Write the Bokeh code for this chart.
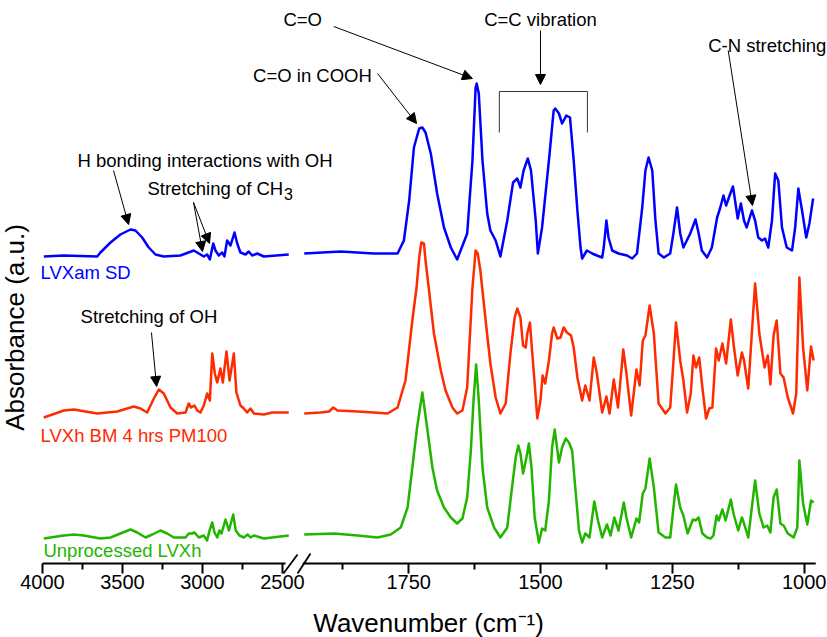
import numpy as np
from bokeh.plotting import figure
from bokeh.models import Range1d, FixedTicker, Label, Arrow, NormalHead, LinearAxis
from bokeh.embed import file_html
from bokeh.resources import INLINE

# ---------------- data (wavenumber cm^-1, absorbance a.u. relative to each trace's baseline) -------------
blue_left_wn = [3992, 3869, 3658, 3638, 3575, 3513, 3450, 3419, 3377, 3336, 3294, 3242, 3138, 3054, 3023,
                2992, 2971, 2954, 2933, 2919, 2898, 2877, 2863, 2846, 2825, 2800, 2783, 2763, 2731, 2711,
                2689, 2658, 2617, 2461]
blue_left_abs = [0.00, 0.01, 0.00, 0.04, 0.14, 0.22, 0.27, 0.26, 0.19, 0.09, 0.02, 0.00, 0.01, 0.06, 0.03,
                 0.00, 0.02, -0.03, 0.13, 0.06, 0.01, 0.04, 0.00, 0.16, 0.11, 0.24, 0.13, 0.04, 0.02, 0.05,
                 0.01, 0.03, 0.00, 0.02]
blue_right_wn = [1948, 1879, 1816, 1771, 1759, 1749, 1740, 1730, 1724, 1718, 1708, 1696, 1683, 1670, 1658,
                 1639, 1629, 1623, 1621, 1617, 1610, 1601, 1595, 1585, 1576, 1563, 1552, 1544, 1538, 1532,
                 1524, 1518, 1509, 1505, 1497, 1484, 1475, 1472, 1465, 1459, 1451, 1444, 1437, 1430, 1424,
                 1421, 1412, 1402, 1393, 1383, 1380, 1375, 1371, 1364, 1352, 1336, 1326, 1317, 1307, 1301,
                 1295, 1288, 1282, 1276, 1266, 1254, 1248, 1241, 1235, 1229, 1216, 1206, 1200, 1194, 1184,
                 1175, 1165, 1159, 1153, 1148, 1140, 1135, 1131, 1126, 1120, 1114, 1109, 1099, 1093, 1087,
                 1080, 1074, 1068, 1061, 1055, 1049, 1042, 1033, 1023, 1017, 1011, 1004, 996, 990, 983]
blue_right_abs = [0.03, 0.05, 0.03, 0.03, 0.16, 0.56, 1.09, 1.28, 1.29, 1.24, 1.03, 0.63, 0.29, 0.09, -0.03,
                  0.23, 0.96, 1.69, 1.73, 1.63, 0.96, 0.43, 0.26, 0.16, 0.00, 0.36, 0.74, 0.78, 0.69, 0.86,
                  0.98, 0.86, 0.36, 0.03, 0.29, 0.96, 1.46, 1.48, 1.43, 1.33, 1.41, 1.39, 0.96, 0.46, 0.09,
                  -0.02, 0.06, 0.03, 0.01, -0.01, 0.09, 0.36, 0.19, 0.06, 0.03, 0.01, -0.02, 0.03, 0.49, 0.86,
                  0.99, 0.86, 0.36, 0.03, -0.01, 0.03, 0.23, 0.49, 0.23, 0.09, 0.23, 0.37, 0.23, 0.06, -0.01,
                  0.09, 0.39, 0.49, 0.61, 0.51, 0.63, 0.70, 0.56, 0.38, 0.53, 0.36, 0.29, 0.46, 0.36, 0.19,
                  0.16, 0.18, 0.09, 0.36, 0.83, 0.76, 0.29, 0.09, 0.06, 0.29, 0.68, 0.46, 0.19, 0.33, 0.58]

red_left_wn = [3992, 3867, 3804, 3658, 3533, 3471, 3429, 3388, 3346, 3304, 3273, 3242, 3200, 3158, 3106,
               3086, 3071, 3050, 3033, 3013, 2992, 2971, 2954, 2939, 2923, 2908, 2888, 2873, 2850, 2831,
               2804, 2788, 2763, 2742, 2721, 2700, 2679, 2617, 2564, 2461]
red_left_abs = [-0.03, 0.04, 0.05, 0.01, 0.03, 0.06, 0.08, 0.06, 0.02, 0.16, 0.25, 0.21, 0.07, 0.01, 0.02,
                0.11, 0.07, 0.09, 0.04, 0.02, 0.09, 0.21, 0.14, 0.61, 0.41, 0.32, 0.46, 0.32, 0.63, 0.34,
                0.61, 0.22, 0.09, 0.06, 0.02, 0.06, 0.01, 0.00, 0.02, 0.02]
red_right_wn = [1948, 1917, 1901, 1893, 1885, 1847, 1816, 1790, 1771, 1756, 1743, 1735, 1730, 1726, 1721,
                1718, 1712, 1702, 1689, 1680, 1667, 1658, 1648, 1639, 1629, 1623, 1619, 1614, 1604, 1595,
                1585, 1576, 1566, 1557, 1549, 1544, 1538, 1533, 1528, 1525, 1520, 1517, 1511, 1506, 1500,
                1496, 1491, 1484, 1478, 1475, 1468, 1462, 1456, 1450, 1442, 1437, 1430, 1421, 1415, 1407,
                1399, 1393, 1383, 1375, 1369, 1361, 1353, 1343, 1337, 1328, 1318, 1312, 1306, 1301, 1293,
                1285, 1276, 1263, 1254, 1249, 1243, 1235, 1229, 1222, 1215, 1210, 1205, 1199, 1193, 1186,
                1180, 1174, 1167, 1162, 1155, 1148, 1139, 1133, 1126, 1118, 1114, 1106, 1093, 1085, 1075,
                1069, 1064, 1058, 1052, 1045, 1039, 1031, 1021, 1015, 1009, 1002, 994, 987, 982]
red_right_abs = [0.01, 0.02, 0.03, 0.07, 0.04, 0.03, 0.02, 0.01, 0.07, 0.34, 0.94, 1.27, 1.57, 1.72, 1.71,
                 1.54, 1.27, 0.81, 0.44, 0.24, 0.07, 0.01, 0.04, 0.27, 1.27, 1.64, 1.61, 1.44, 0.94, 0.51,
                 0.17, 0.01, 0.11, 0.61, 0.97, 1.06, 0.97, 0.69, 0.67, 0.81, 0.92, 0.71, 0.31, -0.04, 0.14,
                 0.39, 0.31, 0.54, 0.81, 0.87, 0.76, 0.77, 0.87, 0.82, 0.79, 0.67, 0.37, 0.14, 0.29, 0.14,
                 0.57, 0.41, 0.02, 0.18, 0.01, 0.35, 0.07, 0.65, 0.41, -0.01, 0.45, 0.29, 0.74, 0.79, 1.09,
                 0.81, 0.11, 0.01, 0.07, 0.44, 0.92, 0.54, 0.34, 0.02, 0.21, 0.59, 0.47, 0.57, 0.27, -0.04,
                 0.06, 0.07, 0.66, 0.54, 0.71, 0.51, 0.95, 0.67, 0.39, 0.62, 0.54, 0.26, 1.31, 0.81, 0.47,
                 0.59, 0.30, 0.79, 0.94, 0.41, 0.37, 0.17, 0.01, 0.21, 1.37, 0.67, 0.24, 0.68, 0.54]

green_left_wn = [3992, 3867, 3804, 3742, 3638, 3575, 3513, 3450, 3408, 3356, 3314, 3263, 3221, 3179, 3106,
                 3086, 3065, 3050, 3023, 2992, 2971, 2956, 2939, 2925, 2908, 2894, 2881, 2856, 2835, 2808,
                 2792, 2769, 2742, 2717, 2700, 2679, 2617, 2461]
green_left_abs = [-0.01, 0.02, 0.03, 0.02, -0.01, 0.00, 0.04, 0.08, 0.05, 0.00, 0.03, 0.07, 0.04, 0.00, 0.00,
                  0.04, 0.04, 0.05, 0.00, 0.02, -0.03, 0.07, 0.15, 0.05, 0.00, 0.07, 0.04, 0.18, 0.07, 0.23,
                  0.07, 0.02, 0.00, 0.03, 0.00, 0.02, -0.01, 0.02]
green_right_wn = [1948, 1891, 1847, 1809, 1784, 1765, 1752, 1743, 1734, 1724, 1715, 1705, 1696, 1683, 1670,
                  1658, 1648, 1639, 1632, 1627, 1622, 1617, 1610, 1601, 1588, 1576, 1563, 1554, 1547, 1542,
                  1538, 1533, 1527, 1522, 1517, 1511, 1503, 1497, 1491, 1484, 1478, 1473, 1465, 1459, 1452,
                  1446, 1440, 1434, 1427, 1421, 1415, 1407, 1398, 1391, 1383, 1374, 1367, 1360, 1352, 1342,
                  1337, 1328, 1318, 1313, 1306, 1301, 1293, 1285, 1276, 1263, 1254, 1249, 1243, 1235, 1229,
                  1221, 1211, 1206, 1200, 1193, 1184, 1177, 1172, 1166, 1162, 1155, 1149, 1139, 1134, 1125,
                  1118, 1114, 1106, 1093, 1085, 1077, 1070, 1064, 1058, 1052, 1045, 1039, 1031, 1020, 1013,
                  1009, 1002, 994, 987, 982]
green_right_abs = [0.03, 0.04, 0.02, 0.00, 0.03, 0.10, 0.30, 0.70, 1.10, 1.45, 1.10, 0.70, 0.47, 0.30, 0.20,
                   0.14, 0.19, 0.40, 0.87, 1.37, 1.73, 1.37, 0.70, 0.30, 0.10, 0.00, 0.10, 0.50, 0.80, 0.92,
                   0.84, 0.64, 0.79, 0.94, 0.70, 0.20, -0.05, 0.09, 0.07, 0.37, 0.90, 1.08, 0.75, 0.90, 0.99,
                   0.95, 0.87, 0.50, 0.07, -0.05, 0.04, 0.00, 0.36, 0.17, 0.00, 0.13, 0.02, 0.20, 0.07, 0.35,
                   0.20, 0.00, 0.19, 0.15, 0.44, 0.49, 0.79, 0.50, 0.05, 0.00, 0.00, 0.24, 0.53, 0.30, 0.22,
                   0.04, 0.18, 0.17, 0.20, 0.04, 0.00, -0.01, 0.02, 0.22, 0.17, 0.28, 0.17, 0.38, 0.24, 0.07,
                   0.20, 0.14, 0.00, 0.57, 0.24, 0.10, 0.12, 0.05, 0.40, 0.48, 0.14, 0.12, 0.04, 0.00, 0.10,
                   0.77, 0.34, 0.13, 0.37, 0.35]

series_names = ["LVXam SD", "LVXh BM 4 hrs PM100", "Unprocessed LVXh"]
series_offsets = [3.07, 1.49, 0.26]
series_colors = ["#0000ff", "#ff2a00", "#22b500"]

major_ticks_left = [4000, 3500, 3000, 2500]
minor_ticks_left = [3750, 3250, 2750]
major_ticks_right = [1750, 1500, 1250, 1000]
minor_ticks_right = [1875, 1625, 1375, 1125]

# broken axis: two wavenumber ranges sharing one frame that fills the canvas
LEFT_RANGE = (4262.5, -906.25)
RIGHT_RANGE = (2524.0, 955.7)
Y_RANGE = (-0.74, 5.63)
LEFT_AXIS_END, RIGHT_AXIS_START, RIGHT_AXIS_END = 2481.0, 1951.0, 978.0
CC_BAND = (1578.0, 1411.0)

FONT = "Liberation Sans"
W, H = 827, 637

p = figure(width=W, height=H, output_backend="svg", toolbar_location=None, title=None,
           x_range=Range1d(*LEFT_RANGE), y_range=Range1d(*Y_RANGE),
           x_axis_location=None, y_axis_location=None,
           min_border=0, min_border_left=0, min_border_right=0, min_border_top=0, min_border_bottom=0)
p.extra_x_ranges = {"right": Range1d(*RIGHT_RANGE)}
p.grid.visible = False
p.outline_line_color = None
p.background_fill_color = "white"
p.border_fill_color = "white"


def r2l(w):
    return round(LEFT_RANGE[0] + (w - RIGHT_RANGE[0]) * (LEFT_RANGE[1] - LEFT_RANGE[0]) /
                 (RIGHT_RANGE[1] - RIGHT_RANGE[0]), 4)


ticks = [float(t) for t in major_ticks_left] + [r2l(t) for t in major_ticks_right]
tick_labels = [str(t) for t in major_ticks_left + major_ticks_right]
minors = [float(t) for t in minor_ticks_left] + [r2l(t) for t in minor_ticks_right]
ax = LinearAxis(fixed_location=0)
ax.ticker = FixedTicker(ticks=ticks, minor_ticks=minors)
ax.major_label_overrides = dict(zip(ticks, tick_labels))
ax.axis_line_color = None
ax.major_tick_out = 10
ax.major_tick_in = 0
ax.minor_tick_out = 6
ax.minor_tick_in = 0
ax.major_tick_line_width = 2
ax.minor_tick_line_width = 2
ax.major_tick_line_color = "black"
ax.minor_tick_line_color = "black"
ax.major_label_text_font = FONT
ax.major_label_text_font_size = "20px"
ax.major_label_text_color = "black"
ax.major_label_standoff = 1
p.add_layout(ax, "below")

# traces
lefts = [(blue_left_wn, blue_left_abs), (red_left_wn, red_left_abs), (green_left_wn, green_left_abs)]
rights = [(blue_right_wn, blue_right_abs), (red_right_wn, red_right_abs), (green_right_wn, green_right_abs)]
for (lw, la), (rw, ra), off, col in zip(lefts, rights, series_offsets, series_colors):
    p.line(lw, np.array(la) + off, line_color=col, line_width=2.5, line_join="round")
    p.line(rw, np.array(ra) + off, line_color=col, line_width=2.5, line_join="round", x_range_name="right")

# axis line pieces and break marks
p.segment(x0=[4000], y0=[0], x1=[LEFT_AXIS_END], y1=[0], line_width=2, line_color="black")
p.segment(x0=[RIGHT_AXIS_START], y0=[0], x1=[RIGHT_AXIS_END], y1=[0], line_width=2, line_color="black",
          x_range_name="right")
p.segment(x0=[2494, 2406], y0=[-0.10, -0.10], x1=[2406, 2325], y1=[0.09, 0.10], line_width=1.8,
          line_color="black")


def label(x, y, text, rng="default", align="left", size="18.5px", color="black", angle=0.0, baseline="middle"):
    p.add_layout(Label(x=x, y=y, text=text, x_range_name=rng, text_align=align, text_baseline=baseline,
                       text_font=FONT, text_font_size=size, text_color=color, angle=angle))


def arrow(x0, y0, x1, y1, rng="default"):
    p.add_layout(Arrow(x_start=x0, y_start=y0, x_end=x1, y_end=y1, x_range_name=rng,
                       line_color="black", line_width=1,
                       end=NormalHead(size=10, fill_color="black", line_color="black", line_width=1)))


# series labels
label(4012, 2.91, series_names[0], color=series_colors[0])
label(4012, 1.28, series_names[1], color=series_colors[1])
label(3994, 0.13, series_names[2], color=series_colors[2])

# band annotations
label(1951, 5.44, "C=O", rng="right", align="center")
arrow(1892, 5.37, 1629, 4.85, rng="right")
label(2045, 4.88, "C=O in COOH", rng="right")
arrow(1809, 4.90, 1735, 4.40, rng="right")
label(1500, 5.44, "C=C vibration", rng="right", align="center")
arrow(1500, 5.33, 1500, 4.79, rng="right")
p.line([CC_BAND[0], CC_BAND[0], CC_BAND[1], CC_BAND[1]], [4.31, 4.72, 4.72, 4.31],
       x_range_name="right", line_color="#333333", line_width=1)
label(1182, 5.18, "C-N stretching", rng="right")
arrow(1144, 5.13, 1098, 3.58, rng="right")

label(3781, 4.03, "H bonding interactions with OH")
arrow(3556, 3.93, 3462, 3.39)
label(3344, 3.75, "Stretching of CH")
label(2490, 3.70, "3", size="16px")
arrow(3056, 3.61, 3000, 3.12)
arrow(3056, 3.61, 2956, 3.20)
label(3762, 2.47, "Stretching of OH")
arrow(3319, 2.31, 3287, 1.77)

# axis titles
label(1587, -0.59, "Wavenumber (cm\u207b\u00b9)", align="center", size="26px", baseline="alphabetic")
label(4175, 2.36, "Absorbance (a.u.)", align="center", size="26px", angle=np.pi / 2)

open("out.html", "w").write(file_html(p, INLINE))
